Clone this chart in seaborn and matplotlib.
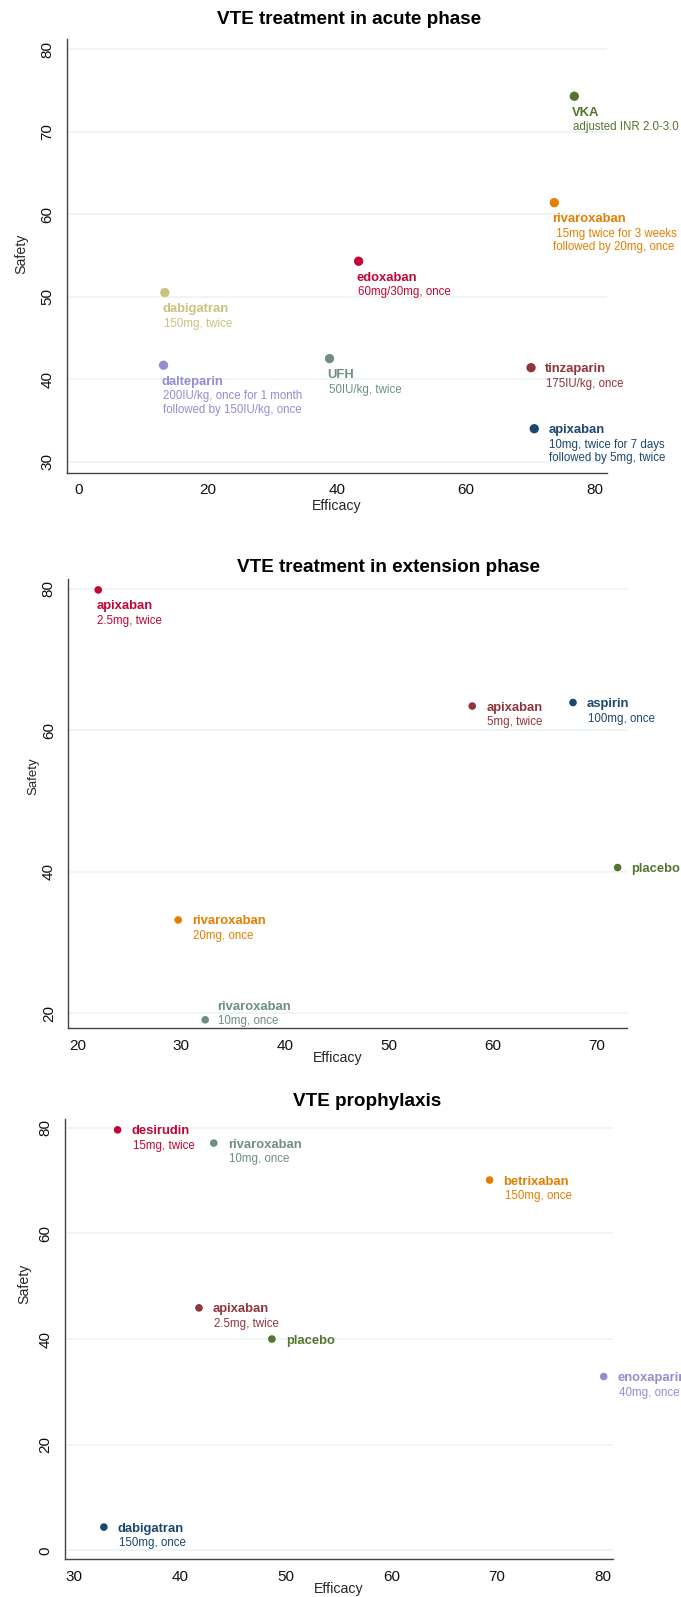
import pandas as pd
import matplotlib
matplotlib.use('Agg')
import matplotlib.pyplot as plt
import seaborn as sns

# Stata s2color-like palette
FOREST = '#55752f'
DKORANGE = '#e37e00'
CRANBERRY = '#c10534'
KHAKI = '#cac27e'
LAVENDER = '#938dd2'
TEAL = '#6e8e84'
MAROON = '#90353b'
NAVY = '#1a476f'

# ---- VTE treatment in acute phase ----
acute_drug = ['VKA', 'rivaroxaban', 'edoxaban', 'dabigatran', 'dalteparin', 'UFH', 'tinzaparin', 'apixaban']
acute_dose = ['adjusted INR 2.0-3.0', ' 15mg twice for 3 weeks\nfollowed by 20mg, once', '60mg/30mg, once',
              '150mg, twice', '200IU/kg, once for 1 month\nfollowed by 150IU/kg, once', '50IU/kg, twice',
              '175IU/kg, once', '10mg, twice for 7 days\nfollowed by 5mg, twice']
acute_efficacy = [76.8, 73.7, 43.4, 13.4, 13.2, 38.9, 70.1, 70.6]
acute_safety = [74.3, 61.4, 54.3, 50.5, 41.7, 42.5, 41.4, 34.0]
acute_color = [FOREST, DKORANGE, CRANBERRY, KHAKI, LAVENDER, TEAL, MAROON, NAVY]
acute_labpos = ['below', 'below', 'below', 'below', 'below', 'below', 'right', 'right']

# ---- VTE treatment in extension phase ----
ext_drug = ['apixaban', 'apixaban', 'aspirin', 'placebo', 'rivaroxaban', 'rivaroxaban']
ext_dose = ['2.5mg, twice', '5mg, twice', '100mg, once', '', '20mg, once', '10mg, once']
ext_efficacy = [22.0, 58.0, 67.7, 72.0, 29.7, 32.3]
ext_safety = [79.8, 63.4, 63.9, 40.6, 33.2, 19.1]
ext_color = [CRANBERRY, MAROON, NAVY, FOREST, DKORANGE, TEAL]
ext_labpos = ['below', 'right', 'right', 'right', 'right', 'upright']

# ---- VTE prophylaxis ----
pro_drug = ['desirudin', 'rivaroxaban', 'betrixaban', 'apixaban', 'placebo', 'enoxaparin', 'dabigatran']
pro_dose = ['15mg, twice', '10mg, once', '150mg, once', '2.5mg, twice', '', '40mg, once', '150mg, once']
pro_efficacy = [34.1, 43.2, 69.3, 41.8, 48.7, 80.1, 32.8]
pro_safety = [79.6, 77.1, 70.1, 45.9, 40.0, 32.9, 4.4]
pro_color = [CRANBERRY, TEAL, DKORANGE, MAROON, FOREST, LAVENDER, NAVY]
pro_labpos = ['right', 'right', 'right', 'right', 'right', 'right', 'right']

W, H = 681, 1597


def rect(l, r, t, b):
    return [l / W, 1 - b / H, (r - l) / W, (b - t) / H]


# label offsets in pixels (name line; dose lines follow below)
OFFSETS = {'below': (-2, -16.5), 'right': (14, -1.5), 'upright': (12, 13)}


def draw_panel(fig, box, drugs, doses, eff, saf, colors, labpos, xlim, ylim, xticks, yticks,
               title, title_xy, xlab_xy, ylab_xy, msize, ylab_size=10.2):
    ax = fig.add_axes(rect(*box))
    df = pd.DataFrame({'key': [f'{d}|{s}' for d, s in zip(drugs, doses)],
                       'Efficacy': eff, 'Safety': saf})
    pal = dict(zip(df['key'], colors))
    for yt in yticks:
        ax.axhline(yt, color='#eaf2f3', lw=1.1, zorder=0)
    sns.scatterplot(data=df, x='Efficacy', y='Safety', hue='key', palette=pal, s=msize,
                    edgecolor='none', legend=False, ax=ax, zorder=3)
    for d, ds, x, y, c, p in zip(drugs, doses, eff, saf, colors, labpos):
        dx, dy = OFFSETS[p]
        ax.annotate(d, (x, y), xytext=(dx, dy), textcoords='offset pixels', ha='left', va='center',
                    fontsize=9.4, fontweight='bold', color=c, annotation_clip=False)
        if ds:
            for i, line in enumerate(ds.split('\n')):
                ax.annotate(line, (x, y), xytext=(dx + 1, dy - 14.6 - 13.5 * i), textcoords='offset pixels',
                            ha='left', va='center', fontsize=8.3, color=c, annotation_clip=False)
    ax.set_xlim(*xlim)
    ax.set_ylim(*ylim)
    ax.set_xticks(xticks)
    ax.set_yticks(yticks)
    ax.set_xlabel('')
    ax.set_ylabel('')
    for side in ['top', 'right']:
        ax.spines[side].set_visible(False)
    for side in ['left', 'bottom']:
        ax.spines[side].set_color('#444444')
        ax.spines[side].set_linewidth(1.0)
    ax.tick_params(axis='both', length=5, width=1.0, color='#444444', labelsize=11, labelcolor='#111111')
    ax.tick_params(axis='x', pad=2.5)
    ax.tick_params(axis='y', pad=4)
    for lab in ax.get_yticklabels():
        lab.set_rotation(90)
        lab.set_va('center')
    fig.text(title_xy[0] / W, 1 - title_xy[1] / H, title, ha='center', va='center',
             fontsize=13.6, fontweight='bold', color='black')
    fig.text(xlab_xy[0] / W, 1 - xlab_xy[1] / H, 'Efficacy', ha='center', va='center', fontsize=10.2)
    fig.text(ylab_xy[0] / W, 1 - ylab_xy[1] / H, 'Safety', ha='center', va='center', fontsize=ylab_size,
             rotation=90)
    return ax


def main():
    sns.set_style('white')
    plt.rcParams['font.family'] = ['Liberation Sans', 'DejaVu Sans']

    fig = plt.figure(figsize=(W / 100, H / 100), dpi=100)

    draw_panel(fig, (67, 606.6, 39.3, 472.7), acute_drug, acute_dose, acute_efficacy, acute_safety,
               acute_color, acute_labpos, (-1.75, 81.8), (28.67, 81.2), [0, 20, 40, 60, 80],
               [30, 40, 50, 60, 70, 80], 'VTE treatment in acute phase', (349.3, 19), (337, 505.7),
               (21, 254), 45)

    draw_panel(fig, (68.3, 627, 579.3, 1028.3), ext_drug, ext_dose, ext_efficacy, ext_safety,
               ext_color, ext_labpos, (19.12, 72.9), (17.9, 81.3), [20, 30, 40, 50, 60, 70],
               [20, 40, 60, 80], 'VTE treatment in extension phase', (388.7, 567.7), (338, 1058.3),
               (33, 776), 30, ylab_size=9.5)

    draw_panel(fig, (65.2, 613, 1119.3, 1559.3), pro_drug, pro_dose, pro_efficacy, pro_safety,
               pro_color, pro_labpos, (29.14, 80.98), (-1.7, 81.6), [30, 40, 50, 60, 70, 80],
               [0, 20, 40, 60, 80], 'VTE prophylaxis', (366.7, 1101.7), (339, 1589.3),
               (24.8, 1284), 30)

    fig.savefig('out.png', dpi=100, facecolor='white')
    plt.close(fig)


if __name__ == '__main__':
    main()
